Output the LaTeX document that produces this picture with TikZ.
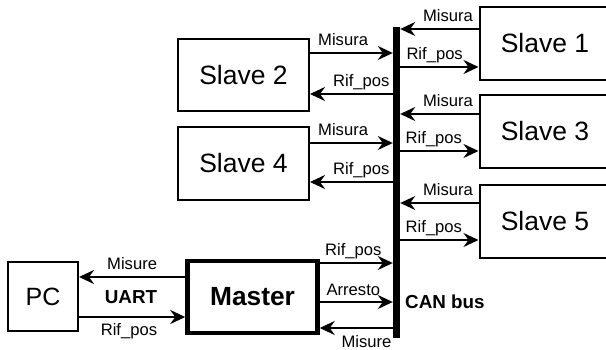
\documentclass[tikz,border=0pt]{standalone}
\usepackage{fontspec}
\setmainfont{Liberation Sans}
\usetikzlibrary{arrows.meta}
\begin{document}
\begin{tikzpicture}[x=1pt,y=-1pt,
  box/.style={draw=black,line width=2pt,fill=white,minimum width=131pt,minimum height=72pt,inner sep=0pt,font=\fontsize{26.5}{30}\selectfont},
  masterbox/.style={draw=black,line width=4.5pt,fill=white,minimum width=130pt,minimum height=71.5pt,inner sep=0pt,font=\fontsize{26.3}{30}\selectfont\bfseries},
  arr/.style={line width=2pt,-{Stealth[length=15pt,width=14pt,inset=5pt]}},
  lbl/.style={font=\fontsize{16.6}{18}\selectfont,inner sep=0pt,text depth=0pt},
  blbl/.style={font=\fontsize{18.8}{20}\selectfont\bfseries,inner sep=0pt}]
\clip (0,0) rectangle (606,350);
\fill[white] (0,0) rectangle (606,350);
% bus
\node[fill=black,inner sep=0pt,minimum width=7pt,minimum height=311pt] (bus) at (396.5,182.5) {};
% boxes
\node[box,minimum height=73pt] (s1) at (545,43.5) {Slave 1};
\node[box,minimum height=73pt] (s3) at (545,131.5) {Slave 3};
\node[box,minimum height=73pt] (s5) at (545,221.5) {Slave 5};
\node[box] (s2) at (243.5,75) {Slave 2};
\node[box,minimum height=73pt] (s4) at (243.5,163.5) {Slave 4};
\node[masterbox] (m) at (252.5,297) {Master};
\node[box,minimum width=70pt,minimum height=69pt,font=\fontsize{25}{30}\selectfont] (pc) at (43,296.5) {PC};
% right slaves
\draw[arr] (s1.west |- 0,29) -- (bus.east |- 0,29) node[lbl,pos=0.39,above=6pt] {Misura};
\draw[arr] (bus.east |- 0,67) -- (s1.west |- 0,67) node[lbl,pos=0.44,above=6pt] {Rif\_pos};
\draw[arr] (s3.west |- 0,114) -- (bus.east |- 0,114) node[lbl,pos=0.39,above=6pt] {Misura};
\draw[arr] (bus.east |- 0,151) -- (s3.west |- 0,151) node[lbl,pos=0.43,above=6pt] {Rif\_pos};
\draw[arr] (s5.west |- 0,203) -- (bus.east |- 0,203) node[lbl,pos=0.39,above=6pt] {Misura};
\draw[arr] (bus.east |- 0,240) -- (s5.west |- 0,240) node[lbl,pos=0.43,above=6pt] {Rif\_pos};
% left slaves
\draw[arr] (s2.east |- 0,53) -- (bus.west |- 0,53) node[lbl,pos=0.40,above=6pt] {Misura};
\draw[arr] (bus.west |- 0,94) -- (s2.east |- 0,94) node[lbl,pos=0.38,above=6pt] {Rif\_pos};
\draw[arr] (s4.east |- 0,143) -- (bus.west |- 0,143) node[lbl,pos=0.40,above=6pt] {Misura};
\draw[arr] (bus.west |- 0,182) -- (s4.east |- 0,182) node[lbl,pos=0.38,above=6pt] {Rif\_pos};
% master
\draw[arr] (m.east |- 0,263) -- (bus.west |- 0,263) node[lbl,pos=0.46,above=6pt] {Rif\_pos};
\draw[arr] (m.east |- 0,302) -- (bus.west |- 0,302) node[lbl,pos=0.46,above=6pt] {Arresto};
\draw[arr] (bus.west |- 0,328) -- (m.east |- 0,328) node[lbl,pos=0.36,below=6pt] {Misure};
% PC
\draw[arr] (m.west |- 0,277) -- (pc.east |- 0,277) node[lbl,pos=0.5,above=6pt] {Misure};
\draw[arr] (pc.east |- 0,317) -- (m.west |- 0,317) node[lbl,pos=0.47,below=5pt] {Rif\_pos};
\node[blbl] (uart) at (131,297) {UART};
\node[blbl,anchor=west] (can) at (405,302) {CAN bus};
\end{tikzpicture}
\end{document}
